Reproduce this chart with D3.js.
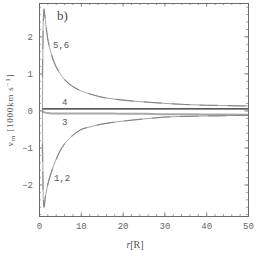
<!DOCTYPE html>
<html>
<head>
<meta charset="utf-8">
<script src="https://cdn.jsdelivr.net/npm/d3@7"></script>
<style>
body { margin: 0; background: #fff; }
svg text { font-family: "Liberation Mono", monospace; fill: #555; }
</style>
</head>
<body>
<div id="mainDiv"></div>
<script>
// radius values (in R) shared by the curves
var radius = [0.8, 0.9, 1.0, 1.2, 1.5, 2, 3, 4, 5, 6, 8, 10, 12, 15, 20, 25, 30, 35, 40, 45, 50];
// curve 5 (upper, thin)
var upper5 = [0, 1.2, 2.3, 2.75, 2.45, 2.0, 1.5, 1.2, 1.0, 0.85, 0.65, 0.53, 0.45, 0.36, 0.28, 0.23, 0.19, 0.16, 0.14, 0.13, 0.12];
// curve 6 (upper, dashed gray)
var upper6 = [0.9, 1.6, 2.2, 2.7, 2.45, 2.0, 1.5, 1.2, 1.0, 0.85, 0.65, 0.53, 0.45, 0.36, 0.28, 0.23, 0.19, 0.16, 0.14, 0.13, 0.12];
// curve 1 (lower, thin)
var lower1 = [0, -1.2, -2.3, -2.62, -2.35, -2.05, -1.65, -1.35, -1.1, -0.92, -0.68, -0.52, -0.45, -0.37, -0.29, -0.23, -0.18, -0.16, -0.15, -0.14, -0.13];
// curve 2 (lower, dashed gray)
var lower2 = [-0.9, -1.6, -2.2, -2.6, -2.35, -2.05, -1.65, -1.35, -1.1, -0.92, -0.68, -0.52, -0.45, -0.37, -0.29, -0.23, -0.18, -0.16, -0.15, -0.14, -0.13];
// curve 3 (gray, slightly negative) and curve 4 (black, slightly positive)
var curve3 = [0, -0.02, -0.04, -0.05, -0.06, -0.07, -0.08, -0.08, -0.08, -0.08, -0.08, -0.08, -0.08, -0.08, -0.09, -0.09, -0.1, -0.1, -0.11, -0.11, -0.12];
var curve4 = [0.04, 0.04, 0.04, 0.04, 0.04, 0.04, 0.04, 0.04, 0.04, 0.04, 0.04, 0.04, 0.04, 0.04, 0.04, 0.04, 0.04, 0.04, 0.04, 0.04, 0.04];

var xTicks = [0, 10, 20, 30, 40, 50];
var yTicks = [-2, -1, 0, 1, 2];

var pLeft = 39, pRight = 248, pTop = 3, pBottom = 216;

var svg = d3.select("#mainDiv").append("svg").attr("width", 256).attr("height", 256);

var x = d3.scaleLinear().domain([0, 50]).range([pLeft, pRight]);
var y = d3.scaleLinear().domain([-2.85, 2.9]).range([pBottom, pTop]);

var xMinor = d3.range(0, 50.01, 2);
var yMinor = d3.range(-2.8, 2.81, 0.2);

// frame with inward ticks on all sides
function ticks(axis, tf, major, minor) {
    svg.append("g").attr("class", "tk").attr("transform", tf)
        .call(axis().tickValues(minor).tickSize(2).tickFormat(""));
    svg.append("g").attr("class", "tk").attr("transform", tf)
        .call(axis().tickValues(major).tickSize(4).tickFormat(""));
}
ticks(function() { return d3.axisTop(x); }, "translate(0," + pBottom + ")", xTicks, xMinor);
ticks(function() { return d3.axisBottom(x); }, "translate(0," + pTop + ")", xTicks, xMinor);
ticks(function() { return d3.axisRight(y); }, "translate(" + pLeft + ",0)", yTicks, yMinor);
ticks(function() { return d3.axisLeft(y); }, "translate(" + pRight + ",0)", yTicks, yMinor);
svg.selectAll(".tk .tick line").attr("stroke", "#777").attr("stroke-width", 0.7);
svg.selectAll(".tk .domain").attr("stroke", "#666").attr("stroke-width", 0.8);

// tick labels
var gx = svg.append("g").attr("transform", "translate(0," + pBottom + ")")
    .call(d3.axisBottom(x).tickValues(xTicks).tickSize(0).tickPadding(7));
var gy = svg.append("g").attr("transform", "translate(" + pLeft + ",0)")
    .call(d3.axisLeft(y).tickValues(yTicks).tickSize(0).tickPadding(6)
        .tickFormat(function(d) { return d < 0 ? "\u2212" + (-d) : d; }));
gx.select(".domain").remove();
gy.select(".domain").remove();
svg.selectAll("g text").attr("font-size", 9).style("font-family", "Liberation Mono").style("fill", "#666");

var line = d3.line().x(function(d) { return x(d[0]); }).y(function(d) { return y(d[1]); }).curve(d3.curveMonotoneX);

function pairs(vals) { return radius.map(function(r, i) { return [r, vals[i]]; }); }

svg.append("path").datum(pairs(curve3)).attr("d", line).attr("fill", "none").attr("stroke", "#aaa").attr("stroke-width", 2);
svg.append("path").datum(pairs(curve4)).attr("d", line).attr("fill", "none").attr("stroke", "#222").attr("stroke-width", 1.3);
svg.append("path").datum(pairs(upper6)).attr("d", line).attr("fill", "none").attr("stroke", "#aaa").attr("stroke-width", 1.2).attr("stroke-dasharray", "18,10");
svg.append("path").datum(pairs(lower2)).attr("d", line).attr("fill", "none").attr("stroke", "#aaa").attr("stroke-width", 1.2).attr("stroke-dasharray", "18,10");
svg.append("path").datum(pairs(upper5)).attr("d", line).attr("fill", "none").attr("stroke", "#666").attr("stroke-width", 0.6);
svg.append("path").datum(pairs(lower1)).attr("d", line).attr("fill", "none").attr("stroke", "#666").attr("stroke-width", 0.6);

// annotations
svg.append("text").attr("x", 57).attr("y", 20).attr("font-size", 13).style("font-family", "Liberation Serif").style("fill", "#444").text("b)");
svg.append("text").attr("x", 53).attr("y", 48).attr("font-size", 9).text("5,6");
svg.append("text").attr("x", 62).attr("y", 105).attr("font-size", 9).text("4");
svg.append("text").attr("x", 62).attr("y", 125).attr("font-size", 9).text("3");
svg.append("text").attr("x", 54).attr("y", 181).attr("font-size", 9).text("1,2");

// axis titles
svg.append("text").attr("x", 135).attr("y", 248).attr("text-anchor", "middle").attr("font-size", 10)
    .style("font-family", "Liberation Serif").html("<tspan font-style='italic'>r</tspan>[R]");
svg.append("text").attr("transform", "translate(13,110) rotate(-90)").attr("text-anchor", "middle").attr("font-size", 9)
    .style("font-family", "Liberation Serif").style("letter-spacing", "0.8px")
    .html("v<tspan dy='2' font-size='7'>m</tspan><tspan dy='-2'> [1000km s</tspan><tspan dy='-3' font-size='7'>\u22121</tspan><tspan dy='3'>]</tspan>");
</script>
</body>
</html>
